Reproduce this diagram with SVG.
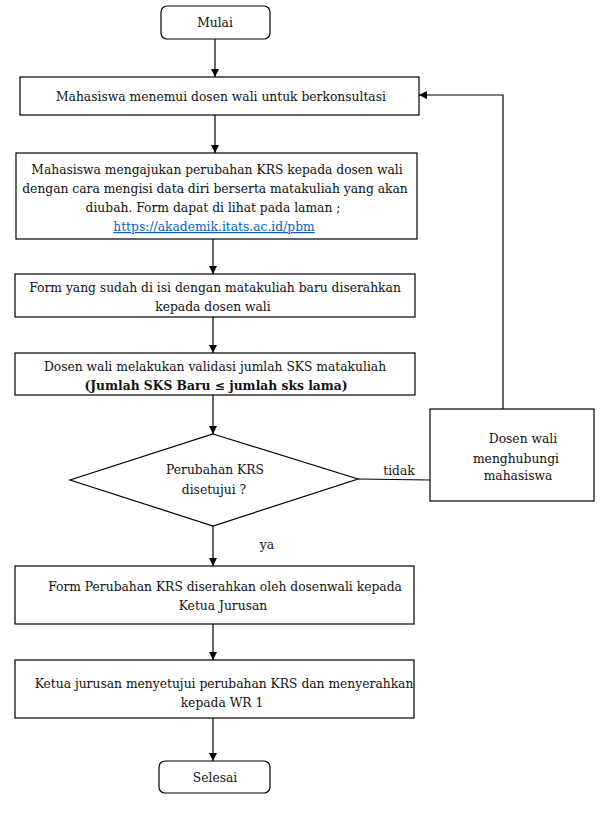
<svg xmlns="http://www.w3.org/2000/svg" width="606" height="826" viewBox="0 0 606 826">
<style>
.b{fill:#fff;stroke:#000;stroke-width:1.2}
.c{fill:none;stroke:#000;stroke-width:1.2}
text{font-family:"DejaVu Serif","Liberation Serif",serif;font-size:12.3px;fill:#111;text-anchor:middle}
.bold{font-weight:bold}
.link{fill:#0563c1;text-decoration:underline}
</style>
<defs>
<marker id="ah" markerWidth="8" markerHeight="8" refX="8" refY="4" orient="auto" markerUnits="userSpaceOnUse">
<path d="M0,0 L8,4 L0,8 Z" fill="#000"/>
</marker>
</defs>
<rect width="606" height="826" fill="#fff"/>
<g id="connectors">
<line class="c" x1="215" y1="39" x2="215" y2="77" marker-end="url(#ah)"/>
<line class="c" x1="215" y1="115" x2="215" y2="153" marker-end="url(#ah)"/>
<line class="c" x1="213" y1="239" x2="213" y2="274" marker-end="url(#ah)"/>
<line class="c" x1="213" y1="317" x2="213" y2="353" marker-end="url(#ah)"/>
<line class="c" x1="213" y1="395" x2="213" y2="434" marker-end="url(#ah)"/>
<line class="c" x1="358" y1="479" x2="430" y2="480"/>
<polyline class="c" points="503,409 503,95 419,95" marker-end="url(#ah)"/>
<line class="c" x1="213" y1="526" x2="213" y2="566" marker-end="url(#ah)"/>
<line class="c" x1="213" y1="624" x2="213" y2="660" marker-end="url(#ah)"/>
<line class="c" x1="213" y1="718" x2="213" y2="761" marker-end="url(#ah)"/>
<text x="399" y="475">tidak</text>
<text x="267" y="549">ya</text>
</g>
<g id="mulai">
<rect class="b" x="161" y="6" width="109" height="33" rx="6"/>
<text x="215" y="27">Mulai</text>
</g>
<g id="menemui">
<rect class="b" x="20" y="77" width="399" height="38"/>
<text x="221" y="101">Mahasiswa menemui dosen wali untuk berkonsultasi</text>
</g>
<g id="mengajukan">
<rect class="b" x="16" y="153" width="401" height="86"/>
<text x="217" y="174">Mahasiswa mengajukan perubahan KRS kepada dosen wali</text>
<text x="215" y="193">dengan cara mengisi data diri berserta matakuliah yang akan</text>
<text x="213" y="212">diubah. Form dapat di lihat pada laman ;</text>
<text x="214" y="231" class="link">https://akademik.itats.ac.id/pbm</text>
</g>
<g id="form">
<rect class="b" x="15" y="274" width="400" height="43"/>
<text x="215" y="292">Form yang sudah di isi dengan matakuliah baru diserahkan</text>
<text x="213" y="311">kepada dosen wali</text>
</g>
<g id="validasi">
<rect class="b" x="15" y="353" width="400" height="42"/>
<text x="215" y="371">Dosen wali melakukan validasi jumlah SKS matakuliah</text>
<text x="216" y="390" class="bold">(Jumlah SKS Baru ≤ jumlah sks lama)</text>
</g>
<g id="keputusan">
<polygon class="b" points="213,434 358,479 213,526 70,480"/>
<text x="215" y="474">Perubahan KRS</text>
<text x="214" y="494">disetujui ?</text>
</g>
<g id="hubungi">
<rect class="b" x="430" y="409" width="164" height="92"/>
<text x="523" y="443">Dosen wali</text>
<text x="516" y="463">menghubungi</text>
<text x="518" y="480">mahasiswa</text>
</g>
<g id="kajur">
<rect class="b" x="15" y="566" width="399" height="58"/>
<text x="225" y="591">Form Perubahan KRS diserahkan oleh dosenwali kepada</text>
<text x="223" y="610">Ketua Jurusan</text>
</g>
<g id="wr1">
<rect class="b" x="15" y="660" width="399" height="58"/>
<text x="224" y="688">Ketua jurusan menyetujui perubahan KRS dan menyerahkan</text>
<text x="222" y="707">kepada WR 1</text>
</g>
<g id="selesai">
<rect class="b" x="159" y="761" width="111" height="32" rx="6"/>
<text x="215" y="782">Selesai</text>
</g>
</svg>
